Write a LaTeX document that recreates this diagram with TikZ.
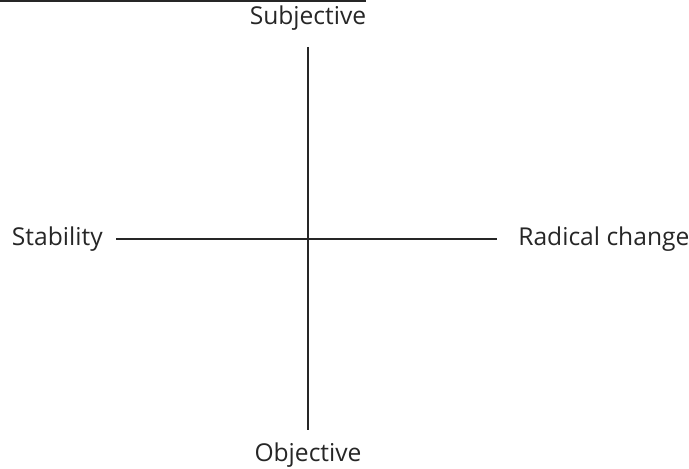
\documentclass[tikz,border=0pt]{standalone}
\usepackage{fontspec}
\setmainfont{Open Sans}
\usetikzlibrary{positioning}

\begin{document}
\begin{tikzpicture}[x=0.02cm,y=0.02cm,font=\fontsize{14}{16}\selectfont,
  axis/.style={line width=1.1pt,draw=black!85},
  lbl/.style={text=black!85,inner sep=0pt}]
\useasboundingbox (0,0) rectangle (689,469);
\draw[line width=1.2pt,draw=black!85] (0,468.5) -- (366,468.5);
\node[lbl] (subj) at (308,451) {Subjective};
\node[lbl] (obj) at (308,14) {Objective};
\node[lbl,anchor=east] (stab) at (103,230) {Stability};
\node[lbl,anchor=west] (rad) at (518,230) {Radical change};
\coordinate (top) at (308,422);
\coordinate (bot) at (308,39);
\coordinate (lft) at (116,230);
\coordinate (rgt) at (497,230);
\draw[axis] (top) -- (bot);
\draw[axis] (lft) -- (rgt);
\end{tikzpicture}
\end{document}
